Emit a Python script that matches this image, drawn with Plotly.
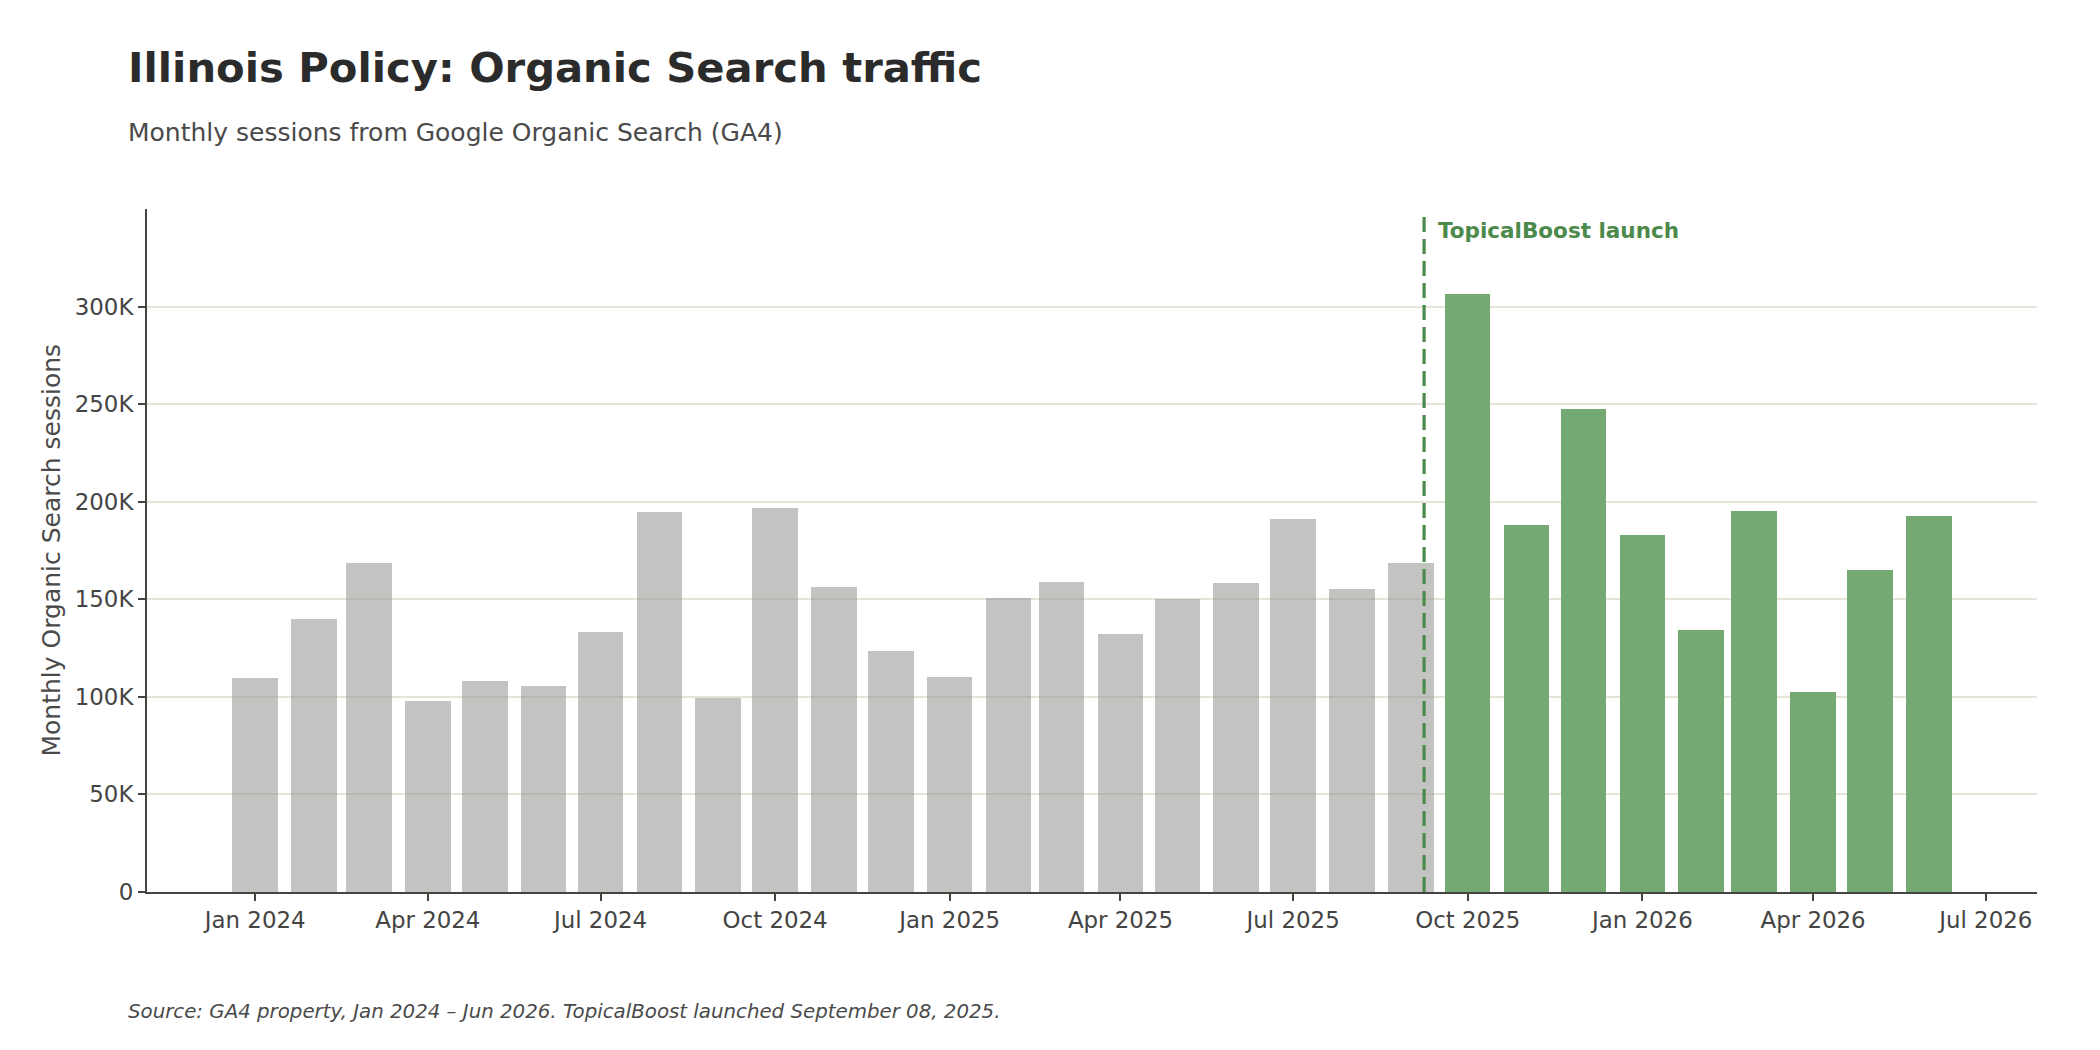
import plotly.graph_objects as go

months = ["2024-01-01","2024-02-01","2024-03-01","2024-04-01","2024-05-01","2024-06-01",
          "2024-07-01","2024-08-01","2024-09-01","2024-10-01","2024-11-01","2024-12-01",
          "2025-01-01","2025-02-01","2025-03-01","2025-04-01","2025-05-01","2025-06-01",
          "2025-07-01","2025-08-01","2025-09-01","2025-10-01","2025-11-01","2025-12-01",
          "2026-01-01","2026-02-01","2026-03-01","2026-04-01","2026-05-01","2026-06-01"]
sessions = [109700, 140000, 168700, 97900, 108300, 105600,
            133200, 194900, 99600, 196800, 156400, 123500,
            110200, 150600, 158800, 132200, 150100, 158300,
            191200, 155400, 168700, 306600, 188100, 247500,
            183000, 134400, 195300, 102500, 165100, 192700]
launch_date = "2025-09-08"
first_post_index = 21  # Oct 2025 onward is post-launch

ytick_vals = [0, 50000, 100000, 150000, 200000, 250000, 300000]
ytick_text = ["0", "50K", "100K", "150K", "200K", "250K", "300K"]

FONT = "DejaVu Sans"
DAY_MS = 86400000
bar_width = 24 * DAY_MS

pre_x, pre_y = months[:first_post_index], sessions[:first_post_index]
post_x, post_y = months[first_post_index:], sessions[first_post_index:]

fig = go.Figure()
fig.add_trace(go.Bar(x=pre_x, y=pre_y, width=[bar_width] * len(pre_x),
                     marker=dict(color="rgba(150,150,148,0.57)", line=dict(width=0)),
                     showlegend=False))
fig.add_trace(go.Bar(x=post_x, y=post_y, width=[bar_width] * len(post_x),
                     marker=dict(color="#74a972", line=dict(width=0)),
                     showlegend=False))

fig.add_shape(type="line", xref="x", yref="paper", x0=launch_date, x1=launch_date,
              y0=0, y1=0.99, line=dict(color="#4a8a4a", width=3.2, dash="15px,7px"),
              layer="above")

PH = 683.0
def py(ypix):
    return (892.0 - ypix) / PH
def px(xpix):
    return (xpix - 147.0) / 1890.0

fig.add_annotation(x=launch_date, xref="x", y=py(231), yref="paper", xshift=12,
                   text="<b>TopicalBoost launch</b>", showarrow=False,
                   xanchor="left", yanchor="middle",
                   font=dict(family=FONT, size=21.5, color="#4b8a4b"))

fig.add_annotation(x=px(126), y=py(67), xref="paper", yref="paper",
                   text="<b>Illinois Policy: Organic Search traffic</b>", showarrow=False,
                   xanchor="left", yanchor="middle",
                   font=dict(family=FONT, size=41.7, color="#2b2b2b"))
fig.add_annotation(x=px(126), y=py(132.6), xref="paper", yref="paper",
                   text="Monthly sessions from Google Organic Search (GA4)", showarrow=False,
                   xanchor="left", yanchor="middle",
                   font=dict(family=FONT, size=25, color="#4a4a4a"))
fig.add_annotation(x=px(126), y=py(1011), xref="paper", yref="paper",
                   text="<i>Source: GA4 property, Jan 2024 – Jun 2026. TopicalBoost launched September 08, 2025.</i>",
                   showarrow=False, xanchor="left", yanchor="middle",
                   font=dict(family=FONT, size=19.8, color="#4a4a4a"))
fig.add_annotation(x=px(51), y=0.5, xref="paper", yref="paper",
                   text="Monthly Organic Search sessions", showarrow=False, textangle=-90,
                   xanchor="center", yanchor="middle",
                   font=dict(family=FONT, size=25, color="#4a4a4a"))

fig.update_layout(
    width=2100, height=1050,
    margin=dict(l=147, r=63, t=209, b=158),
    paper_bgcolor="white", plot_bgcolor="white",
    font=dict(family=FONT, color="#444444"),
    bargap=0, barmode="overlay",
    xaxis=dict(type="date", range=["2023-11-05", "2026-07-28"],
               tick0="2024-01-01", dtick="M3", tickformat="%b %Y",
               ticks="outside", ticklen=7, tickwidth=1.6, tickcolor="#444440",
               showline=True, linecolor="#444440", linewidth=2,
               showgrid=False, zeroline=False,
               tickfont=dict(family=FONT, size=22.9, color="#444444")),
    yaxis=dict(range=[0, 350000], tickvals=ytick_vals, ticktext=ytick_text,
               ticks="outside", ticklen=7, tickwidth=1.6, tickcolor="#444440",
               showline=True, linecolor="#444440", linewidth=2,
               showgrid=True, gridcolor="#e6e4da", gridwidth=1.6, zeroline=False,
               tickfont=dict(family=FONT, size=22.9, color="#444444")),
)

fig.write_html("out.html")
